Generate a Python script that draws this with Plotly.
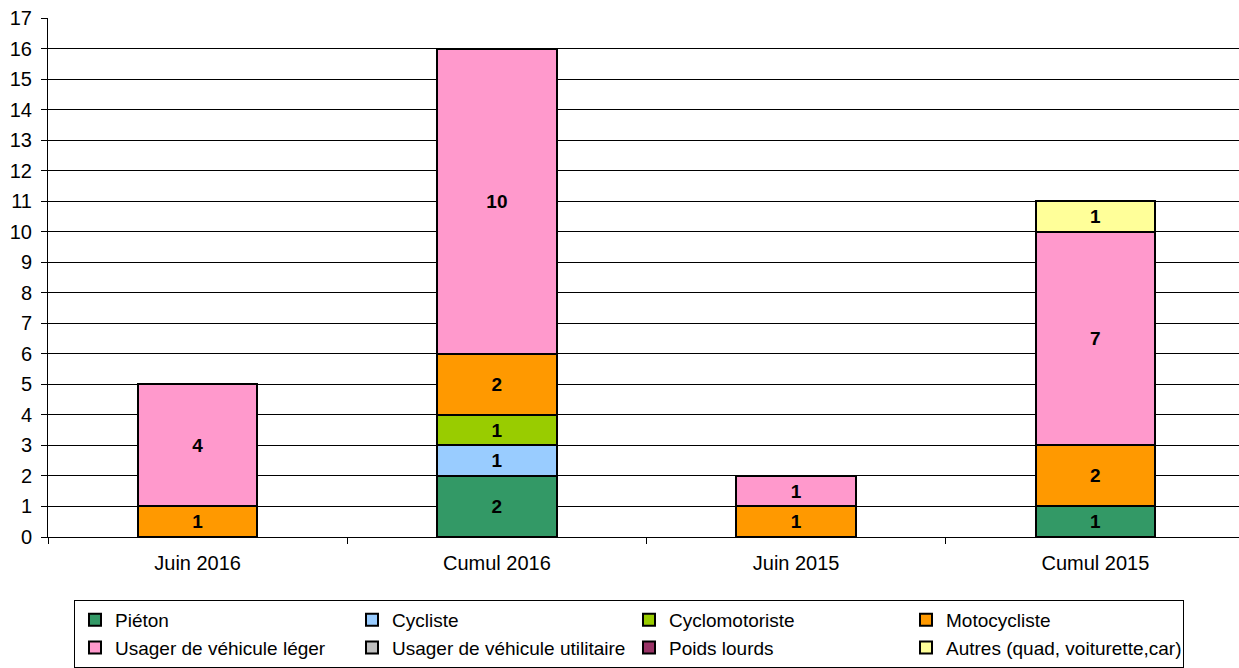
import plotly.graph_objects as go

categories = ["Juin 2016", "Cumul 2016", "Juin 2015", "Cumul 2015"]

pieton = [0, 2, 0, 1]
cycliste = [0, 1, 0, 0]
cyclomotoriste = [0, 1, 0, 0]
motocycliste = [1, 2, 1, 2]
usager_vl = [4, 10, 1, 7]
usager_vu = [0, 0, 0, 0]
poids_lourds = [0, 0, 0, 0]
autres = [0, 0, 0, 1]

series = [
    ("Piéton", pieton, "#339966"),
    ("Cycliste", cycliste, "#99CCFF"),
    ("Cyclomotoriste", cyclomotoriste, "#99CC00"),
    ("Motocycliste", motocycliste, "#FF9900"),
    ("Usager de véhicule léger", usager_vl, "#FF99CC"),
    ("Usager de véhicule utilitaire", usager_vu, "#C0C0C0"),
    ("Poids lourds", poids_lourds, "#993366"),
    ("Autres (quad, voiturette,car)", autres, "#FFFF99"),
]

FONT = "Liberation Sans, Arial, sans-serif"
# plot area in the original runs slightly past the right edge of the picture
W, H = 1247, 668

fig = go.Figure()
for name, vals, color in series:
    y = [v if v else None for v in vals]
    txt = [str(v) if v else "" for v in vals]
    fig.add_trace(go.Bar(
        x=categories, y=y, name=name, text=txt,
        textposition="inside", insidetextanchor="middle", textangle=0,
        textfont=dict(family=FONT, size=19, color="black", weight="bold"),
        marker=dict(color=color, line=dict(color="black", width=2)),
        hoverinfo="x+y+name",
    ))

fig.update_layout(
    barmode="stack",
    bargap=0.6,
    width=W, height=H,
    margin=dict(l=48, r=2, t=18, b=131, autoexpand=False),
    paper_bgcolor="white", plot_bgcolor="white",
    font=dict(family=FONT, size=20, color="black"),
    showlegend=True,
    legend=dict(
        orientation="h",
        xref="container", yref="container",
        x=74 / W, xanchor="left",
        y=1 - 600 / H, yanchor="top",
        entrywidth=232, entrywidthmode="pixels",
        bordercolor="black", borderwidth=1,
        font=dict(family=FONT, size=19, color="black"),
        traceorder="normal",
        itemsizing="constant",
        tracegroupgap=0,
    ),
    xaxis=dict(
        type="category",
        showline=True, linecolor="black", linewidth=1,
        ticks="outside", tickson="boundaries", ticklen=6, tickcolor="black",
        tickfont=dict(family=FONT, size=20, color="black"),
        ticklabelstandoff=8,
        showgrid=False,
    ),
    yaxis=dict(
        range=[0, 17], dtick=1, tick0=0,
        showline=True, linecolor="black", linewidth=1,
        ticks="outside", ticklen=6, tickcolor="black",
        ticklabelstandoff=5,
        showgrid=True, gridcolor="black", gridwidth=1,
        tickfont=dict(family=FONT, size=20, color="black"),
        zeroline=False,
    ),
)

fig.write_html(
    "out.html",
    config={"displayModeBar": False},
    post_script=(
        "document.body.style.margin='0';"
        "document.body.style.overflow='hidden';"
        "document.documentElement.style.overflow='hidden';"
    ),
)
